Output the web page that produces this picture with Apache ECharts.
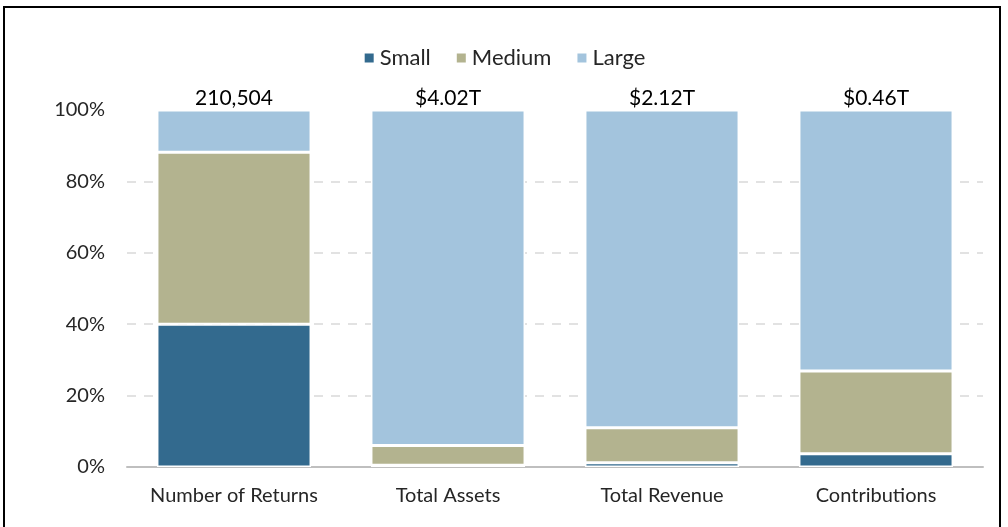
<!DOCTYPE html>
<html>
<head>
<meta charset="utf-8">
<script src="https://cdn.jsdelivr.net/npm/echarts@6/dist/echarts.min.js"></script>
<style>
  html, body { margin: 0; padding: 0; background: #fff; overflow: hidden; }
  #frame { position: absolute; left: 3px; top: 6px; width: 998px; height: 540px; border: 2px solid #000; box-sizing: border-box; }
  #chart { position: absolute; left: 0; top: 0; width: 1008px; height: 527px; }
</style>
</head>
<body>
<div id="frame"></div>
<div id="chart"></div>
<script>
// data (percent of total)
const categories = ['Number of Returns', 'Total Assets', 'Total Revenue', 'Contributions']
const totals = ['210,504', '$4.02T', '$2.12T', '$0.46T']
const small = [40.0, 0.5, 1.2, 3.7]
const medium = [48.2, 5.5, 9.8, 23.2]
const large = [11.8, 94.0, 89.0, 73.1]
const yTicks = [0, 20, 40, 60, 80, 100]

const font = 'Lato, "Open Sans", sans-serif'

const chart = echarts.init(document.getElementById('chart'))

const barBase = {
  type: 'bar',
  stack: 'total',
  barWidth: '72%',
  animation: false
}

chart.setOption({
  textStyle: { fontFamily: font },
  legend: {
    top: 42,
    left: 'center',
    itemWidth: 11,
    itemHeight: 11,
    itemGap: 24,
    icon: 'rect',
    textStyle: { fontSize: 22, color: '#262626', fontFamily: font },
    data: ['Small', 'Medium', 'Large']
  },
  grid: { left: 127, right: 25, top: 110, bottom: 60 },
  xAxis: {
    type: 'category',
    data: categories,
    axisTick: { show: false },
    axisLine: { lineStyle: { color: '#bfbfbf', width: 2 } },
    axisLabel: { interval: 0, fontSize: 20, color: '#262626', margin: 19, fontFamily: font }
  },
  yAxis: {
    type: 'value',
    min: yTicks[0],
    max: yTicks[yTicks.length - 1],
    interval: 20,
    axisLine: { show: false },
    axisTick: { show: false },
    splitLine: { showMaxLine: false, lineStyle: { color: '#d9d9d9', width: 1.5, type: [9, 8] } },
    axisLabel: { fontSize: 20, color: '#262626', margin: 22, fontFamily: font, formatter: v => v + '%' }
  },
  series: [
    Object.assign({}, barBase, { name: 'Small', data: small, itemStyle: { color: '#336a8e', borderColor: '#fff', borderWidth: 1.5 } }),
    Object.assign({}, barBase, { name: 'Medium', data: medium, itemStyle: { color: '#b3b38f', borderColor: '#fff', borderWidth: 1.5 } }),
    Object.assign({}, barBase, {
      name: 'Large',
      data: large,
      itemStyle: { color: '#a3c4dd', borderColor: '#fff', borderWidth: 1.5 },
      label: {
        show: true,
        position: 'top',
        distance: 1,
        fontSize: 21,
        color: '#000',
        fontFamily: font,
        formatter: p => totals[p.dataIndex]
      }
    })
  ]
})

window.addEventListener('resize', () => chart.resize())
</script>
</body>
</html>
